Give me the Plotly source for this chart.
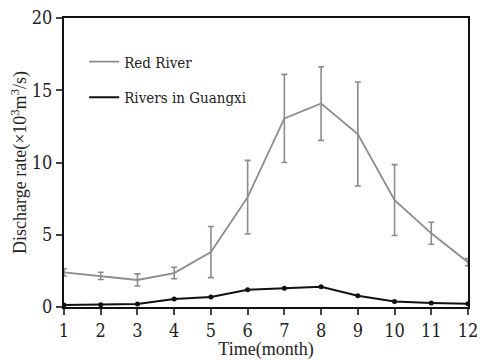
import plotly.graph_objects as go

months = [1, 2, 3, 4, 5, 6, 7, 8, 9, 10, 11, 12]
red_river = [2.4, 2.15, 1.87, 2.35, 3.8, 7.6, 13.05, 14.08, 11.97, 7.4, 5.1, 3.1]
red_river_err = [0.25, 0.25, 0.42, 0.4, 1.77, 2.55, 3.05, 2.55, 3.6, 2.45, 0.76, 0.25]
guangxi = [0.14, 0.15, 0.2, 0.55, 0.7, 1.2, 1.3, 1.4, 0.78, 0.38, 0.28, 0.22]

font_family = "Liberation Serif"
tick_family = "DejaVu Serif Condensed, DejaVu Serif"
gray = "#8c8c8c"

fig = go.Figure()
fig.add_trace(go.Scatter(
    x=months, y=red_river, mode="lines", name="Red River",
    line=dict(color=gray, width=1.8),
    error_y=dict(type="data", array=red_river_err, visible=True,
                 color=gray, thickness=1.6, width=3),
    legendgroup="a",
))
fig.add_trace(go.Scatter(
    x=months, y=guangxi, mode="lines+markers", name="Rivers in Guangxi",
    line=dict(color="#111111", width=2),
    marker=dict(color="#111111", size=5),
    showlegend=False,
))
fig.add_trace(go.Scatter(
    x=[None], y=[None], mode="lines", name="Rivers in Guangxi",
    line=dict(color="#111111", width=2), legendgroup="b",
))

fig.update_layout(
    width=482, height=360,
    margin=dict(l=64, r=14, t=18, b=53, autoexpand=False),
    paper_bgcolor="white", plot_bgcolor="white",
    font=dict(family=font_family, color="#222222", size=17),
    showlegend=True,
    legend=dict(x=0.05, y=0.905, xanchor="left", yanchor="top",
                font=dict(size=15, family=tick_family, color="#222222"),
                bgcolor="rgba(0,0,0,0)",
                tracegroupgap=13, traceorder="grouped"),
    xaxis=dict(range=[1, 12], tickvals=months, ticks="outside", ticklen=6,
               tickwidth=1.5, showline=True, linecolor="#111111", linewidth=2,
               mirror=True, showgrid=False, zeroline=False, automargin=False,
               title=dict(text="Time(month)", standoff=6,
                          font=dict(family=font_family, size=18, color="#222222")),
               tickfont=dict(size=18, family=tick_family, color="#222222")),
    yaxis=dict(range=[0, 20], tickvals=[0, 5, 10, 15, 20], ticks="outside",
               ticklen=6, tickwidth=1.5, showline=True, linecolor="#111111",
               linewidth=2, mirror=True, showgrid=False, zeroline=False,
               automargin=False,
               title=dict(text="Discharge rate(×10<sup>3</sup>m<sup>3</sup>/s)", standoff=0,
                          font=dict(family=font_family, size=18, color="#222222")),
               tickfont=dict(size=18, family=tick_family, color="#222222")),
)

fig.write_html("out.html")
